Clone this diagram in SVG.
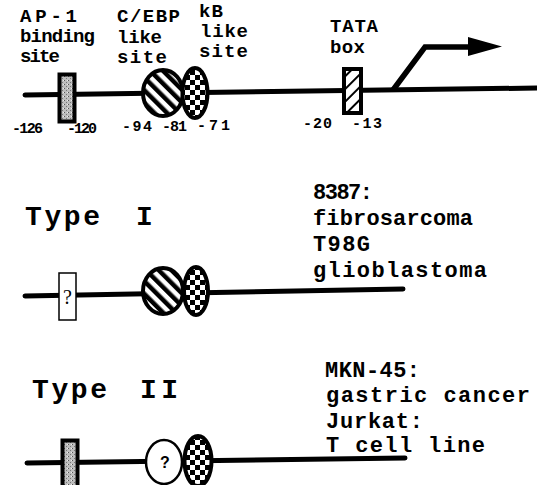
<svg xmlns="http://www.w3.org/2000/svg" width="537" height="485" viewBox="0 0 537 485">
<style>
text{font-family:"Liberation Mono","Courier New",monospace;font-weight:bold;fill:#000}
.lbl{font-size:19px}
.num{font-size:15px}
.type{font-size:28px}
.cell{font-size:22px}
.dna{stroke:#000;stroke-width:5;fill:none;stroke-linecap:round}
.ol{stroke:#000;stroke-width:4}
</style>
<defs>
<pattern id="stripe" width="9" height="9" patternUnits="userSpaceOnUse" patternTransform="rotate(-45)">
<rect width="9" height="9" fill="#fff"/><rect width="4.5" height="9" fill="#000"/>
</pattern>
<pattern id="thin" width="9" height="9" patternUnits="userSpaceOnUse" patternTransform="rotate(45)">
<rect width="9" height="9" fill="#fff"/><rect width="2" height="9" fill="#000"/>
</pattern>
<pattern id="check" width="10" height="10" patternUnits="userSpaceOnUse">
<rect width="10" height="10" fill="#fff"/><rect width="5" height="5" fill="#000"/><rect x="5" y="5" width="5" height="5" fill="#000"/>
</pattern>
<pattern id="stip" width="4" height="4" patternUnits="userSpaceOnUse">
<rect width="4" height="4" fill="#bdbdbd"/><rect width="1" height="1" fill="#555"/><rect x="2" y="2" width="1" height="1" fill="#777"/><rect x="3" y="0" width="1" height="1" fill="#eee"/>
</pattern>
</defs>

<g id="connectors">
<path class="dna" d="M25 95 L537 88"/>
<path class="dna" d="M25 296 L403 289"/>
<path class="dna" d="M27 463 L405 458"/>
<polyline points="393,90 425,47 470,47" fill="none" stroke="#000" stroke-width="5.5" stroke-linejoin="miter"/>
<polygon points="468,37 502,46.5 468,56" fill="#000"/>
</g>

<g id="labels-top">
<text class="lbl" x="20" y="22" textLength="57">AP-1</text>
<text class="lbl" x="20" y="42" textLength="75">binding</text>
<text class="lbl" x="20" y="62" textLength="40">site</text>
<text class="lbl" x="117" y="22" textLength="63">C/EBP</text>
<text class="lbl" x="117" y="43" textLength="45">like</text>
<text class="lbl" x="117" y="63" textLength="50">site</text>
<text class="lbl" x="199" y="17" textLength="24">kB</text>
<text class="lbl" x="200" y="37" textLength="48">like</text>
<text class="lbl" x="199" y="57" textLength="49">site</text>
<text class="lbl" x="330" y="32" textLength="48">TATA</text>
<text class="lbl" x="330" y="53" textLength="35">box</text>
</g>

<g id="numbers">
<text class="num" x="12" y="133" textLength="31">-126</text>
<text class="num" x="67" y="133" textLength="30">-120</text>
<text class="num" x="122" y="131" textLength="30">-94</text>
<text class="num" x="162" y="131" textLength="25">-81</text>
<text class="num" x="197" y="130" textLength="33">-71</text>
<text class="num" x="303" y="128" textLength="29">-20</text>
<text class="num" x="352" y="128" textLength="30">-13</text>
</g>

<g id="ap1-site"><rect x="59.5" y="74.5" width="15" height="47" fill="url(#stip)" class="ol" stroke-width="5"/></g>
<g id="cebp-site"><ellipse cx="163" cy="93" rx="20" ry="23" fill="url(#stripe)" class="ol"/></g>
<g id="kb-site"><ellipse cx="195" cy="93" rx="12.5" ry="25" fill="url(#check)" class="ol"/></g>
<g id="tata-box"><rect x="344" y="69" width="17" height="44" fill="url(#thin)" class="ol"/></g>

<g id="type1">
<text class="type" x="25" y="225" textLength="75">Type</text>
<text class="type" x="136" y="225">I</text>
<text class="cell" x="313" y="199" textLength="60">8387:</text>
<text class="cell" x="313" y="225" textLength="160">fibrosarcoma</text>
<text class="cell" x="313" y="251" textLength="57">T98G</text>
<text class="cell" x="313" y="277" textLength="174">glioblastoma</text>
</g>
<g id="type1-unknown"><rect x="59" y="273" width="17" height="47" fill="#fff" stroke="#000" stroke-width="1.5"/>
<text x="67.5" y="304" text-anchor="middle" style="font-family:'Liberation Serif',serif;font-weight:normal;font-size:20px">?</text></g>
<g id="type1-cebp"><ellipse cx="163" cy="291" rx="20" ry="23" fill="url(#stripe)" class="ol"/></g>
<g id="type1-kb"><ellipse cx="196" cy="291" rx="12" ry="24" fill="url(#check)" class="ol"/></g>

<g id="type2">
<text class="type" x="32" y="398" textLength="75">Type</text>
<text class="type" x="140" y="398" textLength="38">II</text>
<text class="cell" x="325" y="377" textLength="95">MKN-45:</text>
<text class="cell" x="326" y="402" textLength="204">gastric cancer</text>
<text class="cell" x="326" y="428" textLength="97">Jurkat:</text>
<text class="cell" x="326" y="452" textLength="159">T cell line</text>
</g>
<g id="type2-ap1"><rect x="62.5" y="440.5" width="15" height="50" fill="url(#stip)" class="ol" stroke-width="5"/></g>
<g id="type2-unknown"><ellipse cx="164" cy="462" rx="18" ry="22" fill="#fff" stroke="#000" stroke-width="2.5"/>
<text x="165" y="468" text-anchor="middle" style="font-family:'Liberation Sans',sans-serif;font-size:16px">?</text></g>
<g id="type2-kb"><ellipse cx="198" cy="461" rx="13.5" ry="25" fill="url(#check)" class="ol"/></g>
</svg>
